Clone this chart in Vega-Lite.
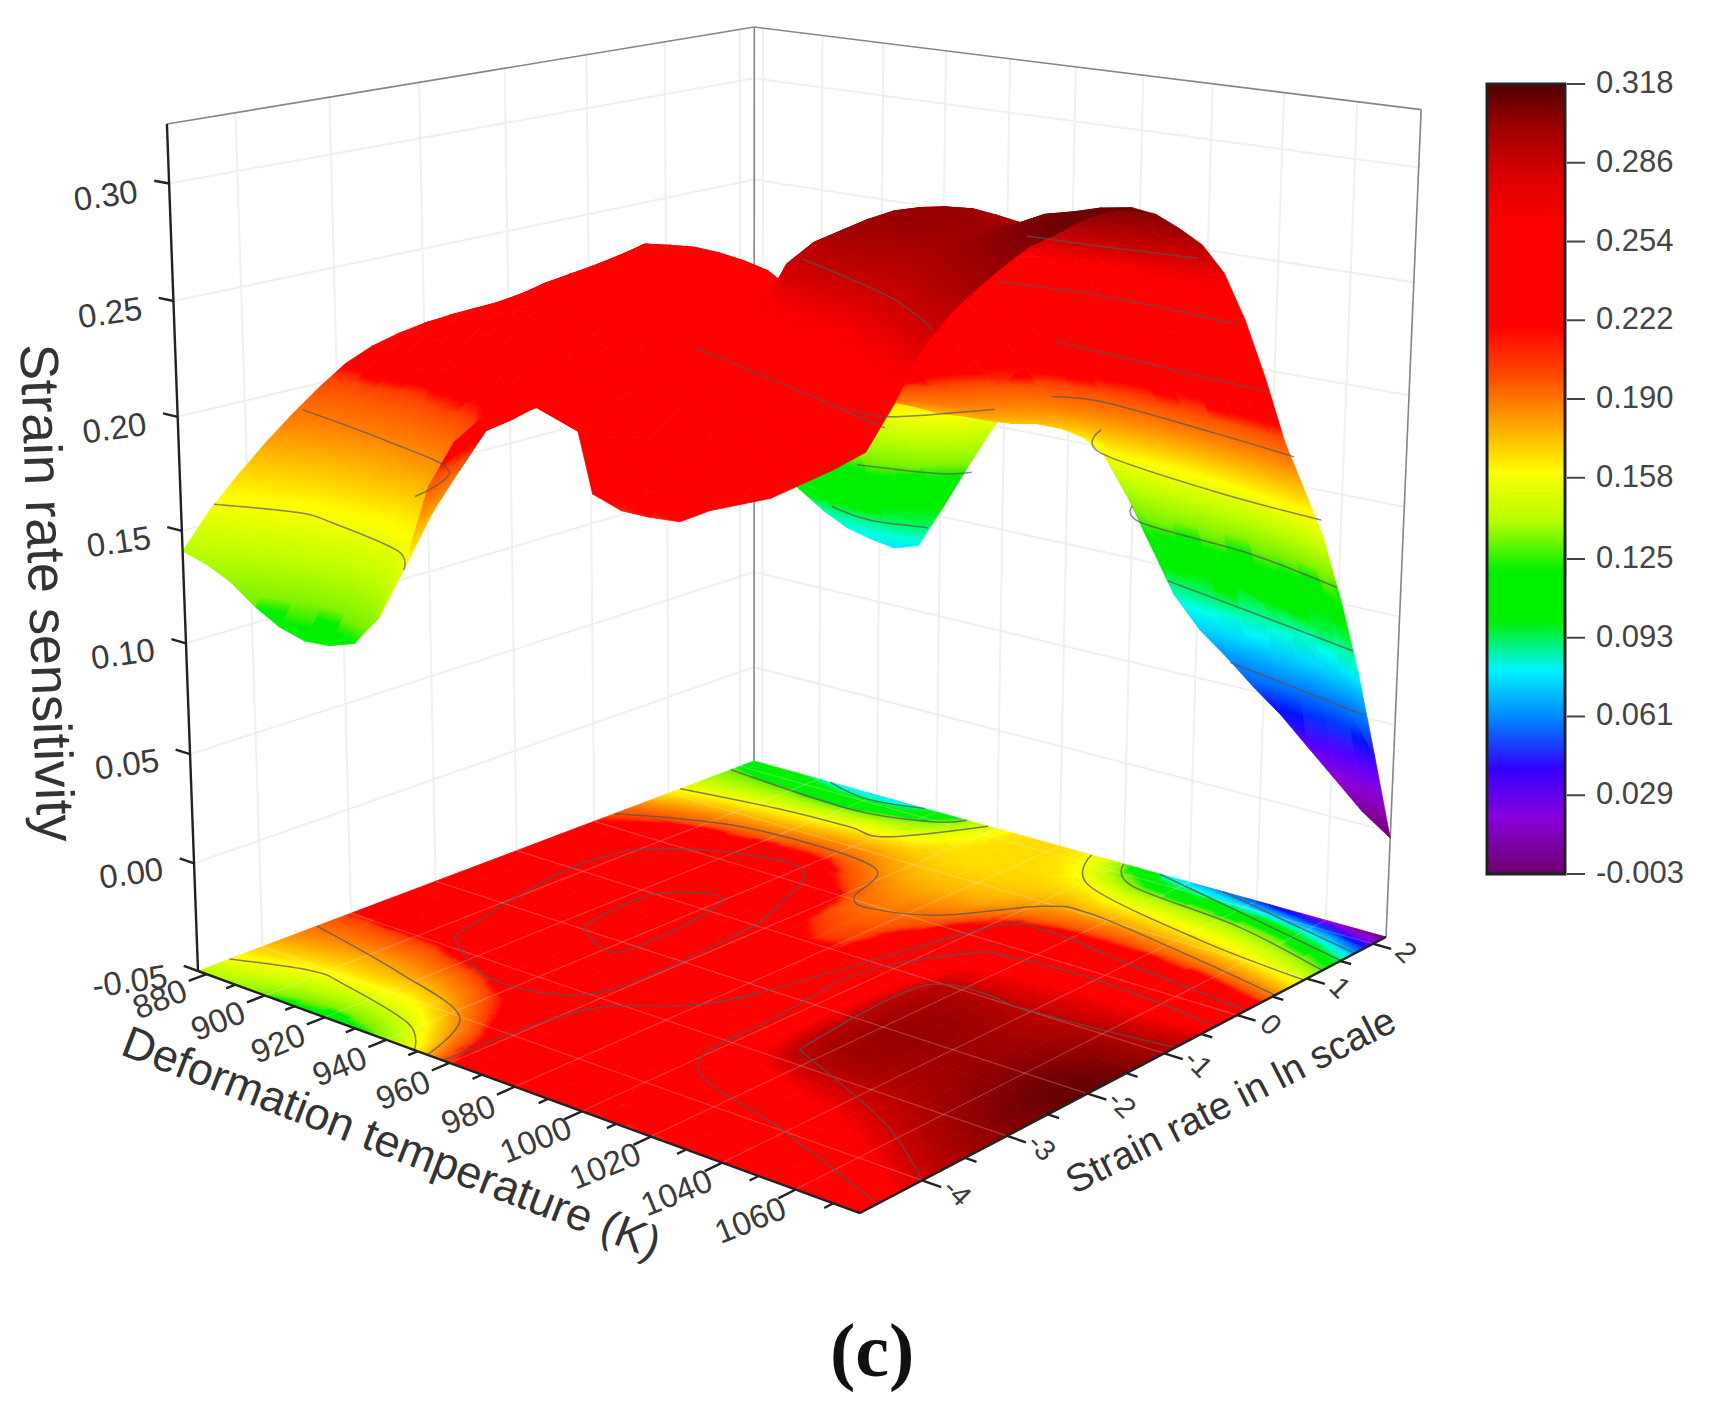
{"$schema":"https://vega.github.io/schema/vega-lite/v6.json","width":1714,"height":1416,"padding":0,"autosize":"none","background":"white",
"title":{"text":"(c)","anchor":"start","orient":"top","frame":"group","offset":0,"dx":830,"dy":1452,"baseline":"alphabetic","font":"Liberation Serif","fontSize":76,"fontWeight":"bold","color":"#111"},
"config":{"view":{"stroke":null}},
"datasets":{
"grid":[
{"T":877,"r":-4.7,"m":0.141},{"T":877,"r":-4.4,"m":0.156},{"T":877,"r":-4.1,"m":0.168},{"T":877,"r":-3.8,"m":0.179},{"T":877,"r":-3.5,"m":0.189},{"T":877,"r":-3.2,"m":0.198},{"T":877,"r":-2.9,"m":0.206},{"T":877,"r":-2.6,"m":0.211},{"T":877,"r":-2.3,"m":0.214},{"T":877,"r":-2,"m":0.216},{"T":877,"r":-1.7,"m":0.217},{"T":877,"r":-1.4,"m":0.217},{"T":877,"r":-1.1,"m":0.216},{"T":877,"r":-0.8,"m":0.214},{"T":877,"r":-0.5,"m":0.212},{"T":877,"r":-0.2,"m":0.208},{"T":877,"r":0.1,"m":0.203},{"T":877,"r":0.4,"m":0.196},{"T":877,"r":0.7,"m":0.18},{"T":877,"r":1,"m":0.165},{"T":877,"r":1.3,"m":0.152},{"T":877,"r":1.6,"m":0.137},{"T":877,"r":1.9,"m":0.125},{"T":877,"r":2.2,"m":0.115},
{"T":885,"r":-4.7,"m":0.138},{"T":885,"r":-4.4,"m":0.152},{"T":885,"r":-4.1,"m":0.165},{"T":885,"r":-3.8,"m":0.177},{"T":885,"r":-3.5,"m":0.187},{"T":885,"r":-3.2,"m":0.197},{"T":885,"r":-2.9,"m":0.207},{"T":885,"r":-2.6,"m":0.214},{"T":885,"r":-2.3,"m":0.219},{"T":885,"r":-2,"m":0.221},{"T":885,"r":-1.7,"m":0.222},{"T":885,"r":-1.4,"m":0.222},{"T":885,"r":-1.1,"m":0.221},{"T":885,"r":-0.8,"m":0.22},{"T":885,"r":-0.5,"m":0.217},{"T":885,"r":-0.2,"m":0.213},{"T":885,"r":0.1,"m":0.208},{"T":885,"r":0.4,"m":0.2},{"T":885,"r":0.7,"m":0.186},{"T":885,"r":1,"m":0.17},{"T":885,"r":1.3,"m":0.155},{"T":885,"r":1.6,"m":0.138},{"T":885,"r":1.9,"m":0.122},{"T":885,"r":2.2,"m":0.105},
{"T":893,"r":-4.7,"m":0.133},{"T":893,"r":-4.4,"m":0.148},{"T":893,"r":-4.1,"m":0.161},{"T":893,"r":-3.8,"m":0.174},{"T":893,"r":-3.5,"m":0.185},{"T":893,"r":-3.2,"m":0.197},{"T":893,"r":-2.9,"m":0.209},{"T":893,"r":-2.6,"m":0.218},{"T":893,"r":-2.3,"m":0.223},{"T":893,"r":-2,"m":0.226},{"T":893,"r":-1.7,"m":0.227},{"T":893,"r":-1.4,"m":0.228},{"T":893,"r":-1.1,"m":0.227},{"T":893,"r":-0.8,"m":0.226},{"T":893,"r":-0.5,"m":0.223},{"T":893,"r":-0.2,"m":0.219},{"T":893,"r":0.1,"m":0.213},{"T":893,"r":0.4,"m":0.204},{"T":893,"r":0.7,"m":0.19},{"T":893,"r":1,"m":0.174},{"T":893,"r":1.3,"m":0.158},{"T":893,"r":1.6,"m":0.139},{"T":893,"r":1.9,"m":0.118},{"T":893,"r":2.2,"m":0.098},
{"T":901,"r":-4.7,"m":0.125},{"T":901,"r":-4.4,"m":0.142},{"T":901,"r":-4.1,"m":0.158},{"T":901,"r":-3.8,"m":0.172},{"T":901,"r":-3.5,"m":0.184},{"T":901,"r":-3.2,"m":0.197},{"T":901,"r":-2.9,"m":0.21},{"T":901,"r":-2.6,"m":0.22},{"T":901,"r":-2.3,"m":0.227},{"T":901,"r":-2,"m":0.231},{"T":901,"r":-1.7,"m":0.233},{"T":901,"r":-1.4,"m":0.234},{"T":901,"r":-1.1,"m":0.233},{"T":901,"r":-0.8,"m":0.231},{"T":901,"r":-0.5,"m":0.228},{"T":901,"r":-0.2,"m":0.224},{"T":901,"r":0.1,"m":0.218},{"T":901,"r":0.4,"m":0.208},{"T":901,"r":0.7,"m":0.193},{"T":901,"r":1,"m":0.176},{"T":901,"r":1.3,"m":0.16},{"T":901,"r":1.6,"m":0.14},{"T":901,"r":1.9,"m":0.116},{"T":901,"r":2.2,"m":0.09},
{"T":909,"r":-4.7,"m":0.119},{"T":909,"r":-4.4,"m":0.138},{"T":909,"r":-4.1,"m":0.157},{"T":909,"r":-3.8,"m":0.172},{"T":909,"r":-3.5,"m":0.183},{"T":909,"r":-3.2,"m":0.197},{"T":909,"r":-2.9,"m":0.212},{"T":909,"r":-2.6,"m":0.223},{"T":909,"r":-2.3,"m":0.231},{"T":909,"r":-2,"m":0.236},{"T":909,"r":-1.7,"m":0.24},{"T":909,"r":-1.4,"m":0.241},{"T":909,"r":-1.1,"m":0.24},{"T":909,"r":-0.8,"m":0.238},{"T":909,"r":-0.5,"m":0.234},{"T":909,"r":-0.2,"m":0.229},{"T":909,"r":0.1,"m":0.222},{"T":909,"r":0.4,"m":0.212},{"T":909,"r":0.7,"m":0.194},{"T":909,"r":1,"m":0.178},{"T":909,"r":1.3,"m":0.162},{"T":909,"r":1.6,"m":0.14},{"T":909,"r":1.9,"m":0.11},{"T":909,"r":2.2,"m":0.084},
{"T":917,"r":-4.7,"m":0.116},{"T":917,"r":-4.4,"m":0.136},{"T":917,"r":-4.1,"m":0.156},{"T":917,"r":-3.8,"m":0.172},{"T":917,"r":-3.5,"m":0.186},{"T":917,"r":-3.2,"m":0.202},{"T":917,"r":-2.9,"m":0.217},{"T":917,"r":-2.6,"m":0.228},{"T":917,"r":-2.3,"m":0.236},{"T":917,"r":-2,"m":0.243},{"T":917,"r":-1.7,"m":0.246},{"T":917,"r":-1.4,"m":0.247},{"T":917,"r":-1.1,"m":0.246},{"T":917,"r":-0.8,"m":0.244},{"T":917,"r":-0.5,"m":0.24},{"T":917,"r":-0.2,"m":0.234},{"T":917,"r":0.1,"m":0.226},{"T":917,"r":0.4,"m":0.214},{"T":917,"r":0.7,"m":0.196},{"T":917,"r":1,"m":0.18},{"T":917,"r":1.3,"m":0.163},{"T":917,"r":1.6,"m":0.141},{"T":917,"r":1.9,"m":0.108},{"T":917,"r":2.2,"m":0.081},
{"T":925,"r":-4.7,"m":0.117},{"T":925,"r":-4.4,"m":0.137},{"T":925,"r":-4.1,"m":0.156},{"T":925,"r":-3.8,"m":0.172},{"T":925,"r":-3.5,"m":0.188},{"T":925,"r":-3.2,"m":0.205},{"T":925,"r":-2.9,"m":0.221},{"T":925,"r":-2.6,"m":0.232},{"T":925,"r":-2.3,"m":0.241},{"T":925,"r":-2,"m":0.248},{"T":925,"r":-1.7,"m":0.252},{"T":925,"r":-1.4,"m":0.254},{"T":925,"r":-1.1,"m":0.253},{"T":925,"r":-0.8,"m":0.25},{"T":925,"r":-0.5,"m":0.245},{"T":925,"r":-0.2,"m":0.238},{"T":925,"r":0.1,"m":0.23},{"T":925,"r":0.4,"m":0.216},{"T":925,"r":0.7,"m":0.198},{"T":925,"r":1,"m":0.182},{"T":925,"r":1.3,"m":0.165},{"T":925,"r":1.6,"m":0.143},{"T":925,"r":1.9,"m":0.112},{"T":925,"r":2.2,"m":0.079},
{"T":933,"r":-4.7,"m":0.121},{"T":933,"r":-4.4,"m":0.143},{"T":933,"r":-4.1,"m":0.16},{"T":933,"r":-3.8,"m":0.178},{"T":933,"r":-3.5,"m":0.195},{"T":933,"r":-3.2,"m":0.212},{"T":933,"r":-2.9,"m":0.226},{"T":933,"r":-2.6,"m":0.238},{"T":933,"r":-2.3,"m":0.248},{"T":933,"r":-2,"m":0.254},{"T":933,"r":-1.7,"m":0.258},{"T":933,"r":-1.4,"m":0.261},{"T":933,"r":-1.1,"m":0.258},{"T":933,"r":-0.8,"m":0.254},{"T":933,"r":-0.5,"m":0.249},{"T":933,"r":-0.2,"m":0.242},{"T":933,"r":0.1,"m":0.232},{"T":933,"r":0.4,"m":0.218},{"T":933,"r":0.7,"m":0.2},{"T":933,"r":1,"m":0.184},{"T":933,"r":1.3,"m":0.168},{"T":933,"r":1.6,"m":0.148},{"T":933,"r":1.9,"m":0.12},{"T":933,"r":2.2,"m":0.083},
{"T":941,"r":-4.7,"m":0.135},{"T":941,"r":-4.4,"m":0.155},{"T":941,"r":-4.1,"m":0.175},{"T":941,"r":-3.8,"m":0.192},{"T":941,"r":-3.5,"m":0.205},{"T":941,"r":-3.2,"m":0.219},{"T":941,"r":-2.9,"m":0.232},{"T":941,"r":-2.6,"m":0.244},{"T":941,"r":-2.3,"m":0.252},{"T":941,"r":-2,"m":0.256},{"T":941,"r":-1.7,"m":0.26},{"T":941,"r":-1.4,"m":0.262},{"T":941,"r":-1.1,"m":0.259},{"T":941,"r":-0.8,"m":0.254},{"T":941,"r":-0.5,"m":0.248},{"T":941,"r":-0.2,"m":0.241},{"T":941,"r":0.1,"m":0.23},{"T":941,"r":0.4,"m":0.215},{"T":941,"r":0.7,"m":0.198},{"T":941,"r":1,"m":0.183},{"T":941,"r":1.3,"m":0.168},{"T":941,"r":1.6,"m":0.15},{"T":941,"r":1.9,"m":0.128},{"T":941,"r":2.2,"m":0.105},
{"T":949,"r":-4.7,"m":0.158},{"T":949,"r":-4.4,"m":0.178},{"T":949,"r":-4.1,"m":0.193},{"T":949,"r":-3.8,"m":0.207},{"T":949,"r":-3.5,"m":0.216},{"T":949,"r":-3.2,"m":0.223},{"T":949,"r":-2.9,"m":0.229},{"T":949,"r":-2.6,"m":0.236},{"T":949,"r":-2.3,"m":0.242},{"T":949,"r":-2,"m":0.245},{"T":949,"r":-1.7,"m":0.247},{"T":949,"r":-1.4,"m":0.246},{"T":949,"r":-1.1,"m":0.243},{"T":949,"r":-0.8,"m":0.239},{"T":949,"r":-0.5,"m":0.232},{"T":949,"r":-0.2,"m":0.225},{"T":949,"r":0.1,"m":0.216},{"T":949,"r":0.4,"m":0.204},{"T":949,"r":0.7,"m":0.192},{"T":949,"r":1,"m":0.181},{"T":949,"r":1.3,"m":0.17},{"T":949,"r":1.6,"m":0.157},{"T":949,"r":1.9,"m":0.142},{"T":949,"r":2.2,"m":0.128},
{"T":957,"r":-4.7,"m":0.195},{"T":957,"r":-4.4,"m":0.205},{"T":957,"r":-4.1,"m":0.212},{"T":957,"r":-3.8,"m":0.214},{"T":957,"r":-3.5,"m":0.217},{"T":957,"r":-3.2,"m":0.22},{"T":957,"r":-2.9,"m":0.222},{"T":957,"r":-2.6,"m":0.226},{"T":957,"r":-2.3,"m":0.226},{"T":957,"r":-2,"m":0.226},{"T":957,"r":-1.7,"m":0.225},{"T":957,"r":-1.4,"m":0.224},{"T":957,"r":-1.1,"m":0.225},{"T":957,"r":-0.8,"m":0.224},{"T":957,"r":-0.5,"m":0.222},{"T":957,"r":-0.2,"m":0.215},{"T":957,"r":0.1,"m":0.205},{"T":957,"r":0.4,"m":0.193},{"T":957,"r":0.7,"m":0.184},{"T":957,"r":1,"m":0.176},{"T":957,"r":1.3,"m":0.17},{"T":957,"r":1.6,"m":0.165},{"T":957,"r":1.9,"m":0.158},{"T":957,"r":2.2,"m":0.15},
{"T":965,"r":-4.7,"m":0.216},{"T":965,"r":-4.4,"m":0.222},{"T":965,"r":-4.1,"m":0.224},{"T":965,"r":-3.8,"m":0.224},{"T":965,"r":-3.5,"m":0.224},{"T":965,"r":-3.2,"m":0.222},{"T":965,"r":-2.9,"m":0.219},{"T":965,"r":-2.6,"m":0.216},{"T":965,"r":-2.3,"m":0.214},{"T":965,"r":-2,"m":0.213},{"T":965,"r":-1.7,"m":0.212},{"T":965,"r":-1.4,"m":0.211},{"T":965,"r":-1.1,"m":0.209},{"T":965,"r":-0.8,"m":0.206},{"T":965,"r":-0.5,"m":0.202},{"T":965,"r":-0.2,"m":0.196},{"T":965,"r":0.1,"m":0.191},{"T":965,"r":0.4,"m":0.185},{"T":965,"r":0.7,"m":0.178},{"T":965,"r":1,"m":0.172},{"T":965,"r":1.3,"m":0.168},{"T":965,"r":1.6,"m":0.167},{"T":965,"r":1.9,"m":0.166},{"T":965,"r":2.2,"m":0.165},
{"T":973,"r":-4.7,"m":0.228},{"T":973,"r":-4.4,"m":0.226},{"T":973,"r":-4.1,"m":0.228},{"T":973,"r":-3.8,"m":0.229},{"T":973,"r":-3.5,"m":0.229},{"T":973,"r":-3.2,"m":0.229},{"T":973,"r":-2.9,"m":0.226},{"T":973,"r":-2.6,"m":0.222},{"T":973,"r":-2.3,"m":0.217},{"T":973,"r":-2,"m":0.213},{"T":973,"r":-1.7,"m":0.21},{"T":973,"r":-1.4,"m":0.208},{"T":973,"r":-1.1,"m":0.205},{"T":973,"r":-0.8,"m":0.202},{"T":973,"r":-0.5,"m":0.198},{"T":973,"r":-0.2,"m":0.193},{"T":973,"r":0.1,"m":0.187},{"T":973,"r":0.4,"m":0.182},{"T":973,"r":0.7,"m":0.176},{"T":973,"r":1,"m":0.172},{"T":973,"r":1.3,"m":0.168},{"T":973,"r":1.6,"m":0.168},{"T":973,"r":1.9,"m":0.168},{"T":973,"r":2.2,"m":0.168},
{"T":981,"r":-4.7,"m":0.24},{"T":981,"r":-4.4,"m":0.232},{"T":981,"r":-4.1,"m":0.232},{"T":981,"r":-3.8,"m":0.235},{"T":981,"r":-3.5,"m":0.238},{"T":981,"r":-3.2,"m":0.24},{"T":981,"r":-2.9,"m":0.238},{"T":981,"r":-2.6,"m":0.232},{"T":981,"r":-2.3,"m":0.222},{"T":981,"r":-2,"m":0.216},{"T":981,"r":-1.7,"m":0.212},{"T":981,"r":-1.4,"m":0.208},{"T":981,"r":-1.1,"m":0.205},{"T":981,"r":-0.8,"m":0.203},{"T":981,"r":-0.5,"m":0.2},{"T":981,"r":-0.2,"m":0.196},{"T":981,"r":0.1,"m":0.19},{"T":981,"r":0.4,"m":0.184},{"T":981,"r":0.7,"m":0.177},{"T":981,"r":1,"m":0.172},{"T":981,"r":1.3,"m":0.169},{"T":981,"r":1.6,"m":0.168},{"T":981,"r":1.9,"m":0.168},{"T":981,"r":2.2,"m":0.168},
{"T":989,"r":-4.7,"m":0.254},{"T":989,"r":-4.4,"m":0.228},{"T":989,"r":-4.1,"m":0.226},{"T":989,"r":-3.8,"m":0.232},{"T":989,"r":-3.5,"m":0.24},{"T":989,"r":-3.2,"m":0.245},{"T":989,"r":-2.9,"m":0.247},{"T":989,"r":-2.6,"m":0.243},{"T":989,"r":-2.3,"m":0.236},{"T":989,"r":-2,"m":0.23},{"T":989,"r":-1.7,"m":0.225},{"T":989,"r":-1.4,"m":0.222},{"T":989,"r":-1.1,"m":0.218},{"T":989,"r":-0.8,"m":0.214},{"T":989,"r":-0.5,"m":0.21},{"T":989,"r":-0.2,"m":0.204},{"T":989,"r":0.1,"m":0.196},{"T":989,"r":0.4,"m":0.186},{"T":989,"r":0.7,"m":0.178},{"T":989,"r":1,"m":0.173},{"T":989,"r":1.3,"m":0.17},{"T":989,"r":1.6,"m":0.167},{"T":989,"r":1.9,"m":0.165},{"T":989,"r":2.2,"m":0.162},
{"T":997,"r":-4.7,"m":0.256},{"T":997,"r":-4.4,"m":0.224},{"T":997,"r":-4.1,"m":0.222},{"T":997,"r":-3.8,"m":0.23},{"T":997,"r":-3.5,"m":0.24},{"T":997,"r":-3.2,"m":0.247},{"T":997,"r":-2.9,"m":0.25},{"T":997,"r":-2.6,"m":0.252},{"T":997,"r":-2.3,"m":0.253},{"T":997,"r":-2,"m":0.253},{"T":997,"r":-1.7,"m":0.254},{"T":997,"r":-1.4,"m":0.254},{"T":997,"r":-1.1,"m":0.25},{"T":997,"r":-0.8,"m":0.24},{"T":997,"r":-0.5,"m":0.232},{"T":997,"r":-0.2,"m":0.224},{"T":997,"r":0.1,"m":0.212},{"T":997,"r":0.4,"m":0.198},{"T":997,"r":0.7,"m":0.185},{"T":997,"r":1,"m":0.176},{"T":997,"r":1.3,"m":0.17},{"T":997,"r":1.6,"m":0.163},{"T":997,"r":1.9,"m":0.152},{"T":997,"r":2.2,"m":0.145},
{"T":1005,"r":-4.7,"m":0.208},{"T":1005,"r":-4.4,"m":0.216},{"T":1005,"r":-4.1,"m":0.224},{"T":1005,"r":-3.8,"m":0.232},{"T":1005,"r":-3.5,"m":0.25},{"T":1005,"r":-3.2,"m":0.257},{"T":1005,"r":-2.9,"m":0.262},{"T":1005,"r":-2.6,"m":0.266},{"T":1005,"r":-2.3,"m":0.268},{"T":1005,"r":-2,"m":0.268},{"T":1005,"r":-1.7,"m":0.268},{"T":1005,"r":-1.4,"m":0.266},{"T":1005,"r":-1.1,"m":0.262},{"T":1005,"r":-0.8,"m":0.258},{"T":1005,"r":-0.5,"m":0.25},{"T":1005,"r":-0.2,"m":0.238},{"T":1005,"r":0.1,"m":0.225},{"T":1005,"r":0.4,"m":0.21},{"T":1005,"r":0.7,"m":0.192},{"T":1005,"r":1,"m":0.18},{"T":1005,"r":1.3,"m":0.17},{"T":1005,"r":1.6,"m":0.158},{"T":1005,"r":1.9,"m":0.133},{"T":1005,"r":2.2,"m":0.11},
{"T":1013,"r":-4.7,"m":0.204},{"T":1013,"r":-4.4,"m":0.208},{"T":1013,"r":-4.1,"m":0.222},{"T":1013,"r":-3.8,"m":0.238},{"T":1013,"r":-3.5,"m":0.252},{"T":1013,"r":-3.2,"m":0.268},{"T":1013,"r":-2.9,"m":0.285},{"T":1013,"r":-2.6,"m":0.291},{"T":1013,"r":-2.3,"m":0.293},{"T":1013,"r":-2,"m":0.293},{"T":1013,"r":-1.7,"m":0.293},{"T":1013,"r":-1.4,"m":0.292},{"T":1013,"r":-1.1,"m":0.288},{"T":1013,"r":-0.8,"m":0.278},{"T":1013,"r":-0.5,"m":0.266},{"T":1013,"r":-0.2,"m":0.25},{"T":1013,"r":0.1,"m":0.232},{"T":1013,"r":0.4,"m":0.217},{"T":1013,"r":0.7,"m":0.196},{"T":1013,"r":1,"m":0.18},{"T":1013,"r":1.3,"m":0.165},{"T":1013,"r":1.6,"m":0.148},{"T":1013,"r":1.9,"m":0.118},{"T":1013,"r":2.2,"m":0.087},
{"T":1021,"r":-4.7,"m":0.204},{"T":1021,"r":-4.4,"m":0.212},{"T":1021,"r":-4.1,"m":0.228},{"T":1021,"r":-3.8,"m":0.245},{"T":1021,"r":-3.5,"m":0.26},{"T":1021,"r":-3.2,"m":0.275},{"T":1021,"r":-2.9,"m":0.292},{"T":1021,"r":-2.6,"m":0.298},{"T":1021,"r":-2.3,"m":0.3},{"T":1021,"r":-2,"m":0.301},{"T":1021,"r":-1.7,"m":0.3},{"T":1021,"r":-1.4,"m":0.298},{"T":1021,"r":-1.1,"m":0.294},{"T":1021,"r":-0.8,"m":0.281},{"T":1021,"r":-0.5,"m":0.27},{"T":1021,"r":-0.2,"m":0.256},{"T":1021,"r":0.1,"m":0.238},{"T":1021,"r":0.4,"m":0.22},{"T":1021,"r":0.7,"m":0.198},{"T":1021,"r":1,"m":0.18},{"T":1021,"r":1.3,"m":0.165},{"T":1021,"r":1.6,"m":0.145},{"T":1021,"r":1.9,"m":0.112},{"T":1021,"r":2.2,"m":0.073},
{"T":1029,"r":-4.7,"m":0.205},{"T":1029,"r":-4.4,"m":0.218},{"T":1029,"r":-4.1,"m":0.235},{"T":1029,"r":-3.8,"m":0.252},{"T":1029,"r":-3.5,"m":0.265},{"T":1029,"r":-3.2,"m":0.28},{"T":1029,"r":-2.9,"m":0.293},{"T":1029,"r":-2.6,"m":0.299},{"T":1029,"r":-2.3,"m":0.302},{"T":1029,"r":-2,"m":0.303},{"T":1029,"r":-1.7,"m":0.302},{"T":1029,"r":-1.4,"m":0.299},{"T":1029,"r":-1.1,"m":0.294},{"T":1029,"r":-0.8,"m":0.282},{"T":1029,"r":-0.5,"m":0.272},{"T":1029,"r":-0.2,"m":0.258},{"T":1029,"r":0.1,"m":0.241},{"T":1029,"r":0.4,"m":0.222},{"T":1029,"r":0.7,"m":0.199},{"T":1029,"r":1,"m":0.179},{"T":1029,"r":1.3,"m":0.163},{"T":1029,"r":1.6,"m":0.142},{"T":1029,"r":1.9,"m":0.108},{"T":1029,"r":2.2,"m":0.063},
{"T":1037,"r":-4.7,"m":0.212},{"T":1037,"r":-4.4,"m":0.224},{"T":1037,"r":-4.1,"m":0.242},{"T":1037,"r":-3.8,"m":0.256},{"T":1037,"r":-3.5,"m":0.27},{"T":1037,"r":-3.2,"m":0.282},{"T":1037,"r":-2.9,"m":0.292},{"T":1037,"r":-2.6,"m":0.298},{"T":1037,"r":-2.3,"m":0.3},{"T":1037,"r":-2,"m":0.301},{"T":1037,"r":-1.7,"m":0.3},{"T":1037,"r":-1.4,"m":0.297},{"T":1037,"r":-1.1,"m":0.292},{"T":1037,"r":-0.8,"m":0.283},{"T":1037,"r":-0.5,"m":0.273},{"T":1037,"r":-0.2,"m":0.258},{"T":1037,"r":0.1,"m":0.242},{"T":1037,"r":0.4,"m":0.222},{"T":1037,"r":0.7,"m":0.197},{"T":1037,"r":1,"m":0.177},{"T":1037,"r":1.3,"m":0.16},{"T":1037,"r":1.6,"m":0.139},{"T":1037,"r":1.9,"m":0.103},{"T":1037,"r":2.2,"m":0.052},
{"T":1045,"r":-4.7,"m":0.217},{"T":1045,"r":-4.4,"m":0.23},{"T":1045,"r":-4.1,"m":0.246},{"T":1045,"r":-3.8,"m":0.26},{"T":1045,"r":-3.5,"m":0.274},{"T":1045,"r":-3.2,"m":0.285},{"T":1045,"r":-2.9,"m":0.293},{"T":1045,"r":-2.6,"m":0.297},{"T":1045,"r":-2.3,"m":0.3},{"T":1045,"r":-2,"m":0.3},{"T":1045,"r":-1.7,"m":0.299},{"T":1045,"r":-1.4,"m":0.296},{"T":1045,"r":-1.1,"m":0.292},{"T":1045,"r":-0.8,"m":0.284},{"T":1045,"r":-0.5,"m":0.274},{"T":1045,"r":-0.2,"m":0.259},{"T":1045,"r":0.1,"m":0.242},{"T":1045,"r":0.4,"m":0.22},{"T":1045,"r":0.7,"m":0.194},{"T":1045,"r":1,"m":0.174},{"T":1045,"r":1.3,"m":0.157},{"T":1045,"r":1.6,"m":0.135},{"T":1045,"r":1.9,"m":0.098},{"T":1045,"r":2.2,"m":0.042},
{"T":1053,"r":-4.7,"m":0.222},{"T":1053,"r":-4.4,"m":0.238},{"T":1053,"r":-4.1,"m":0.254},{"T":1053,"r":-3.8,"m":0.268},{"T":1053,"r":-3.5,"m":0.28},{"T":1053,"r":-3.2,"m":0.289},{"T":1053,"r":-2.9,"m":0.296},{"T":1053,"r":-2.6,"m":0.3},{"T":1053,"r":-2.3,"m":0.303},{"T":1053,"r":-2,"m":0.303},{"T":1053,"r":-1.7,"m":0.302},{"T":1053,"r":-1.4,"m":0.299},{"T":1053,"r":-1.1,"m":0.294},{"T":1053,"r":-0.8,"m":0.285},{"T":1053,"r":-0.5,"m":0.274},{"T":1053,"r":-0.2,"m":0.258},{"T":1053,"r":0.1,"m":0.24},{"T":1053,"r":0.4,"m":0.216},{"T":1053,"r":0.7,"m":0.191},{"T":1053,"r":1,"m":0.17},{"T":1053,"r":1.3,"m":0.152},{"T":1053,"r":1.6,"m":0.128},{"T":1053,"r":1.9,"m":0.09},{"T":1053,"r":2.2,"m":0.03},
{"T":1061,"r":-4.7,"m":0.23},{"T":1061,"r":-4.4,"m":0.246},{"T":1061,"r":-4.1,"m":0.262},{"T":1061,"r":-3.8,"m":0.276},{"T":1061,"r":-3.5,"m":0.287},{"T":1061,"r":-3.2,"m":0.295},{"T":1061,"r":-2.9,"m":0.301},{"T":1061,"r":-2.6,"m":0.306},{"T":1061,"r":-2.3,"m":0.308},{"T":1061,"r":-2,"m":0.309},{"T":1061,"r":-1.7,"m":0.307},{"T":1061,"r":-1.4,"m":0.303},{"T":1061,"r":-1.1,"m":0.297},{"T":1061,"r":-0.8,"m":0.287},{"T":1061,"r":-0.5,"m":0.274},{"T":1061,"r":-0.2,"m":0.256},{"T":1061,"r":0.1,"m":0.236},{"T":1061,"r":0.4,"m":0.211},{"T":1061,"r":0.7,"m":0.187},{"T":1061,"r":1,"m":0.165},{"T":1061,"r":1.3,"m":0.145},{"T":1061,"r":1.6,"m":0.118},{"T":1061,"r":1.9,"m":0.078},{"T":1061,"r":2.2,"m":0.018},
{"T":1069,"r":-4.7,"m":0.238},{"T":1069,"r":-4.4,"m":0.254},{"T":1069,"r":-4.1,"m":0.271},{"T":1069,"r":-3.8,"m":0.284},{"T":1069,"r":-3.5,"m":0.293},{"T":1069,"r":-3.2,"m":0.3},{"T":1069,"r":-2.9,"m":0.306},{"T":1069,"r":-2.6,"m":0.31},{"T":1069,"r":-2.3,"m":0.312},{"T":1069,"r":-2,"m":0.312},{"T":1069,"r":-1.7,"m":0.311},{"T":1069,"r":-1.4,"m":0.307},{"T":1069,"r":-1.1,"m":0.299},{"T":1069,"r":-0.8,"m":0.288},{"T":1069,"r":-0.5,"m":0.274},{"T":1069,"r":-0.2,"m":0.254},{"T":1069,"r":0.1,"m":0.231},{"T":1069,"r":0.4,"m":0.205},{"T":1069,"r":0.7,"m":0.181},{"T":1069,"r":1,"m":0.158},{"T":1069,"r":1.3,"m":0.136},{"T":1069,"r":1.6,"m":0.104},{"T":1069,"r":1.9,"m":0.06},{"T":1069,"r":2.2,"m":0.006},
{"T":1077,"r":-4.7,"m":0.247},{"T":1077,"r":-4.4,"m":0.262},{"T":1077,"r":-4.1,"m":0.28},{"T":1077,"r":-3.8,"m":0.29},{"T":1077,"r":-3.5,"m":0.297},{"T":1077,"r":-3.2,"m":0.303},{"T":1077,"r":-2.9,"m":0.308},{"T":1077,"r":-2.6,"m":0.31},{"T":1077,"r":-2.3,"m":0.313},{"T":1077,"r":-2,"m":0.314},{"T":1077,"r":-1.7,"m":0.313},{"T":1077,"r":-1.4,"m":0.308},{"T":1077,"r":-1.1,"m":0.3},{"T":1077,"r":-0.8,"m":0.291},{"T":1077,"r":-0.5,"m":0.277},{"T":1077,"r":-0.2,"m":0.255},{"T":1077,"r":0.1,"m":0.228},{"T":1077,"r":0.4,"m":0.198},{"T":1077,"r":0.7,"m":0.174},{"T":1077,"r":1,"m":0.15},{"T":1077,"r":1.3,"m":0.118},{"T":1077,"r":1.6,"m":0.082},{"T":1077,"r":1.9,"m":0.04},{"T":1077,"r":2.2,"m":-0.003}
],
"seg":[
{"k":"w","T":877,"r":-4.7,"z":0,"T2":877,"r2":2.2,"z2":0},{"k":"w","T":877,"r":-4.7,"z":0.05,"T2":877,"r2":2.2,"z2":0.05},{"k":"w","T":877,"r":-4.7,"z":0.1,"T2":877,"r2":2.2,"z2":0.1},{"k":"w","T":877,"r":-4.7,"z":0.15,"T2":877,"r2":2.2,"z2":0.15},{"k":"w","T":877,"r":-4.7,"z":0.2,"T2":877,"r2":2.2,"z2":0.2},{"k":"w","T":877,"r":-4.7,"z":0.25,"T2":877,"r2":2.2,"z2":0.25},{"k":"w","T":877,"r":-4.7,"z":0.3,"T2":877,"r2":2.2,"z2":0.3},
{"k":"w","T":877,"r":2.2,"z":0,"T2":1077,"r2":2.2,"z2":0},{"k":"w","T":877,"r":2.2,"z":0.05,"T2":1077,"r2":2.2,"z2":0.05},{"k":"w","T":877,"r":2.2,"z":0.1,"T2":1077,"r2":2.2,"z2":0.1},{"k":"w","T":877,"r":2.2,"z":0.15,"T2":1077,"r2":2.2,"z2":0.15},{"k":"w","T":877,"r":2.2,"z":0.2,"T2":1077,"r2":2.2,"z2":0.2},{"k":"w","T":877,"r":2.2,"z":0.25,"T2":1077,"r2":2.2,"z2":0.25},{"k":"w","T":877,"r":2.2,"z":0.3,"T2":1077,"r2":2.2,"z2":0.3},
{"k":"w","T":877,"r":-4,"z":-0.05,"T2":877,"r2":-4,"z2":0.325},{"k":"w","T":877,"r":-3,"z":-0.05,"T2":877,"r2":-3,"z2":0.325},{"k":"w","T":877,"r":-2,"z":-0.05,"T2":877,"r2":-2,"z2":0.325},{"k":"w","T":877,"r":-1,"z":-0.05,"T2":877,"r2":-1,"z2":0.325},{"k":"w","T":877,"r":0,"z":-0.05,"T2":877,"r2":0,"z2":0.325},{"k":"w","T":877,"r":1,"z":-0.05,"T2":877,"r2":1,"z2":0.325},{"k":"w","T":877,"r":2,"z":-0.05,"T2":877,"r2":2,"z2":0.325},
{"k":"w","T":880,"r":2.2,"z":-0.05,"T2":880,"r2":2.2,"z2":0.325},{"k":"w","T":900,"r":2.2,"z":-0.05,"T2":900,"r2":2.2,"z2":0.325},{"k":"w","T":920,"r":2.2,"z":-0.05,"T2":920,"r2":2.2,"z2":0.325},{"k":"w","T":940,"r":2.2,"z":-0.05,"T2":940,"r2":2.2,"z2":0.325},{"k":"w","T":960,"r":2.2,"z":-0.05,"T2":960,"r2":2.2,"z2":0.325},{"k":"w","T":980,"r":2.2,"z":-0.05,"T2":980,"r2":2.2,"z2":0.325},{"k":"w","T":1000,"r":2.2,"z":-0.05,"T2":1000,"r2":2.2,"z2":0.325},{"k":"w","T":1020,"r":2.2,"z":-0.05,"T2":1020,"r2":2.2,"z2":0.325},{"k":"w","T":1040,"r":2.2,"z":-0.05,"T2":1040,"r2":2.2,"z2":0.325},{"k":"w","T":1060,"r":2.2,"z":-0.05,"T2":1060,"r2":2.2,"z2":0.325},
{"k":"f","T":877,"r":2.2,"z":-0.05,"T2":877,"r2":2.2,"z2":0.325},{"k":"f","T":1077,"r":2.2,"z":-0.05,"T2":1077,"r2":2.2,"z2":0.325},{"k":"f","T":877,"r":-4.7,"z":0.325,"T2":877,"r2":2.2,"z2":0.325},{"k":"f","T":877,"r":2.2,"z":0.325,"T2":1077,"r2":2.2,"z2":0.325},
{"k":"g","T":900,"r":-4.7,"z":-0.05,"T2":900,"r2":2.2,"z2":-0.05},{"k":"g","T":920,"r":-4.7,"z":-0.05,"T2":920,"r2":2.2,"z2":-0.05},{"k":"g","T":940,"r":-4.7,"z":-0.05,"T2":940,"r2":2.2,"z2":-0.05},{"k":"g","T":960,"r":-4.7,"z":-0.05,"T2":960,"r2":2.2,"z2":-0.05},{"k":"g","T":980,"r":-4.7,"z":-0.05,"T2":980,"r2":2.2,"z2":-0.05},{"k":"g","T":1000,"r":-4.7,"z":-0.05,"T2":1000,"r2":2.2,"z2":-0.05},{"k":"g","T":1020,"r":-4.7,"z":-0.05,"T2":1020,"r2":2.2,"z2":-0.05},{"k":"g","T":1040,"r":-4.7,"z":-0.05,"T2":1040,"r2":2.2,"z2":-0.05},{"k":"g","T":1060,"r":-4.7,"z":-0.05,"T2":1060,"r2":2.2,"z2":-0.05},
{"k":"g","T":877,"r":-4,"z":-0.05,"T2":1077,"r2":-4,"z2":-0.05},{"k":"g","T":877,"r":-3,"z":-0.05,"T2":1077,"r2":-3,"z2":-0.05},{"k":"g","T":877,"r":-2,"z":-0.05,"T2":1077,"r2":-2,"z2":-0.05},{"k":"g","T":877,"r":-1,"z":-0.05,"T2":1077,"r2":-1,"z2":-0.05},{"k":"g","T":877,"r":0,"z":-0.05,"T2":1077,"r2":0,"z2":-0.05},{"k":"g","T":877,"r":1,"z":-0.05,"T2":1077,"r2":1,"z2":-0.05},{"k":"g","T":877,"r":2,"z":-0.05,"T2":1077,"r2":2,"z2":-0.05},
{"k":"a","T":877,"r":-4.7,"z":-0.05,"T2":877,"r2":-4.7,"z2":0.325},{"k":"a","T":877,"r":-4.7,"z":-0.05,"T2":1077,"r2":-4.7,"z2":-0.05},{"k":"a","T":1077,"r":-4.7,"z":-0.05,"T2":1077,"r2":2.2,"z2":-0.05},
{"k":"a","T":877,"r":-4.7,"z":-0.05,"T2":872,"r2":-4.7,"z2":-0.05},{"k":"a","T":877,"r":-4.7,"z":0,"T2":872,"r2":-4.7,"z2":0},{"k":"a","T":877,"r":-4.7,"z":0.05,"T2":872,"r2":-4.7,"z2":0.05},{"k":"a","T":877,"r":-4.7,"z":0.1,"T2":872,"r2":-4.7,"z2":0.1},{"k":"a","T":877,"r":-4.7,"z":0.15,"T2":872,"r2":-4.7,"z2":0.15},{"k":"a","T":877,"r":-4.7,"z":0.2,"T2":872,"r2":-4.7,"z2":0.2},{"k":"a","T":877,"r":-4.7,"z":0.25,"T2":872,"r2":-4.7,"z2":0.25},{"k":"a","T":877,"r":-4.7,"z":0.3,"T2":872,"r2":-4.7,"z2":0.3},
{"k":"a","T":880,"r":-4.7,"z":-0.05,"T2":880,"r2":-4.89,"z2":-0.05},{"k":"a","T":890,"r":-4.7,"z":-0.05,"T2":890,"r2":-4.8,"z2":-0.05},{"k":"a","T":900,"r":-4.7,"z":-0.05,"T2":900,"r2":-4.89,"z2":-0.05},{"k":"a","T":910,"r":-4.7,"z":-0.05,"T2":910,"r2":-4.8,"z2":-0.05},{"k":"a","T":920,"r":-4.7,"z":-0.05,"T2":920,"r2":-4.89,"z2":-0.05},{"k":"a","T":930,"r":-4.7,"z":-0.05,"T2":930,"r2":-4.8,"z2":-0.05},{"k":"a","T":940,"r":-4.7,"z":-0.05,"T2":940,"r2":-4.89,"z2":-0.05},{"k":"a","T":950,"r":-4.7,"z":-0.05,"T2":950,"r2":-4.8,"z2":-0.05},{"k":"a","T":960,"r":-4.7,"z":-0.05,"T2":960,"r2":-4.89,"z2":-0.05},{"k":"a","T":970,"r":-4.7,"z":-0.05,"T2":970,"r2":-4.8,"z2":-0.05},{"k":"a","T":980,"r":-4.7,"z":-0.05,"T2":980,"r2":-4.89,"z2":-0.05},{"k":"a","T":990,"r":-4.7,"z":-0.05,"T2":990,"r2":-4.8,"z2":-0.05},{"k":"a","T":1000,"r":-4.7,"z":-0.05,"T2":1000,"r2":-4.89,"z2":-0.05},{"k":"a","T":1010,"r":-4.7,"z":-0.05,"T2":1010,"r2":-4.8,"z2":-0.05},{"k":"a","T":1020,"r":-4.7,"z":-0.05,"T2":1020,"r2":-4.89,"z2":-0.05},{"k":"a","T":1030,"r":-4.7,"z":-0.05,"T2":1030,"r2":-4.8,"z2":-0.05},{"k":"a","T":1040,"r":-4.7,"z":-0.05,"T2":1040,"r2":-4.89,"z2":-0.05},{"k":"a","T":1050,"r":-4.7,"z":-0.05,"T2":1050,"r2":-4.8,"z2":-0.05},{"k":"a","T":1060,"r":-4.7,"z":-0.05,"T2":1060,"r2":-4.89,"z2":-0.05},{"k":"a","T":1070,"r":-4.7,"z":-0.05,"T2":1070,"r2":-4.8,"z2":-0.05},
{"k":"a","T":1077,"r":-4,"z":-0.05,"T2":1082,"r2":-4,"z2":-0.05},{"k":"a","T":1077,"r":-3.5,"z":-0.05,"T2":1080,"r2":-3.5,"z2":-0.05},{"k":"a","T":1077,"r":-3,"z":-0.05,"T2":1082,"r2":-3,"z2":-0.05},{"k":"a","T":1077,"r":-2.5,"z":-0.05,"T2":1080,"r2":-2.5,"z2":-0.05},{"k":"a","T":1077,"r":-2,"z":-0.05,"T2":1082,"r2":-2,"z2":-0.05},{"k":"a","T":1077,"r":-1.5,"z":-0.05,"T2":1080,"r2":-1.5,"z2":-0.05},{"k":"a","T":1077,"r":-1,"z":-0.05,"T2":1082,"r2":-1,"z2":-0.05},{"k":"a","T":1077,"r":-0.5,"z":-0.05,"T2":1080,"r2":-0.5,"z2":-0.05},{"k":"a","T":1077,"r":0,"z":-0.05,"T2":1082,"r2":0,"z2":-0.05},{"k":"a","T":1077,"r":0.5,"z":-0.05,"T2":1080,"r2":0.5,"z2":-0.05},{"k":"a","T":1077,"r":1,"z":-0.05,"T2":1082,"r2":1,"z2":-0.05},{"k":"a","T":1077,"r":1.5,"z":-0.05,"T2":1080,"r2":1.5,"z2":-0.05},{"k":"a","T":1077,"r":2,"z":-0.05,"T2":1082,"r2":2,"z2":-0.05}
],
"ctr":[
{"id":"A","i":0,"T":877,"r":-4.36,"m":0.158,"top":1},{"id":"A","i":1,"T":897,"r":-4.1,"m":0.158,"top":1},{"id":"A","i":2,"T":909,"r":-4.13,"m":0.158,"top":1},{"id":"A","i":3,"T":937,"r":-4.36,"m":0.158,"top":1},{"id":"A","i":4,"T":949,"r":-4.7,"m":0.158,"top":1},
{"id":"B","i":0,"T":877,"r":-3.39,"m":0.19,"top":1},{"id":"B","i":1,"T":914,"r":-3.67,"m":0.19,"top":1},{"id":"B","i":2,"T":943,"r":-4,"m":0.19,"top":1},{"id":"B","i":3,"T":953,"r":-4.7,"m":0.19,"top":1},
{"id":"C","i":0,"T":907,"r":-2.82,"m":0.222,"top":0},{"id":"C","i":1,"T":896,"r":-1,"m":0.222,"top":0},{"id":"C","i":2,"T":905,"r":-0.1,"m":0.222,"top":0},{"id":"C","i":3,"T":939,"r":0.31,"m":0.222,"top":0},{"id":"C","i":4,"T":953,"r":-0.56,"m":0.222,"top":0},{"id":"C","i":5,"T":958,"r":-1.39,"m":0.222,"top":0},{"id":"C","i":6,"T":957,"r":-2.95,"m":0.222,"top":0},{"id":"C","i":7,"T":933,"r":-3.28,"m":0.222,"top":0},{"id":"C","i":8,"T":907,"r":-2.82,"m":0.222,"top":0},
{"id":"D","i":0,"T":926,"r":-1.95,"m":0.254,"top":0},{"id":"D","i":1,"T":924,"r":-1.04,"m":0.254,"top":0},{"id":"D","i":2,"T":940,"r":-0.74,"m":0.254,"top":0},{"id":"D","i":3,"T":944,"r":-2.17,"m":0.254,"top":0},{"id":"D","i":4,"T":926,"r":-1.95,"m":0.254,"top":0},
{"id":"E","i":0,"T":877,"r":0.27,"m":0.19,"top":0},{"id":"E","i":1,"T":910,"r":0.76,"m":0.19,"top":0},{"id":"E","i":2,"T":953,"r":0.73,"m":0.19,"top":0},{"id":"E","i":3,"T":963,"r":0.05,"m":0.19,"top":0},{"id":"E","i":4,"T":971,"r":-0.07,"m":0.19,"top":0},{"id":"E","i":5,"T":987,"r":0.19,"m":0.19,"top":0},{"id":"E","i":6,"T":1002,"r":0.91,"m":0.19,"top":1},{"id":"E","i":7,"T":1014,"r":1.04,"m":0.19,"top":1},{"id":"E","i":8,"T":1051,"r":0.77,"m":0.19,"top":1},{"id":"E","i":9,"T":1077,"r":0.54,"m":0.19,"top":1},
{"id":"F","i":0,"T":877,"r":1.16,"m":0.158,"top":0},{"id":"F","i":1,"T":909,"r":1.34,"m":0.158,"top":0},{"id":"F","i":2,"T":930,"r":1.38,"m":0.158,"top":1},{"id":"F","i":3,"T":942,"r":1.39,"m":0.158,"top":1},{"id":"F","i":4,"T":957,"r":2.2,"m":0.158,"top":1},
{"id":"P","i":0,"T":877,"r":1.87,"m":0.125,"top":0},{"id":"P","i":1,"T":923,"r":1.75,"m":0.125,"top":1},{"id":"P","i":2,"T":944,"r":1.97,"m":0.125,"top":1},{"id":"P","i":3,"T":950,"r":2.2,"m":0.125,"top":1},
{"id":"M","i":0,"T":904,"r":2.2,"m":0.093,"top":1},{"id":"M","i":1,"T":920,"r":2.06,"m":0.093,"top":1},{"id":"M","i":2,"T":936,"r":2.2,"m":0.093,"top":1},
{"id":"G","i":0,"T":990,"r":2.2,"m":0.158,"top":1},{"id":"G","i":1,"T":1003,"r":1.56,"m":0.158,"top":1},{"id":"G","i":2,"T":1044,"r":1.14,"m":0.158,"top":1},{"id":"G","i":3,"T":1077,"r":0.96,"m":0.158,"top":1},
{"id":"H","i":0,"T":1000,"r":2.2,"m":0.125,"top":1},{"id":"H","i":1,"T":1011,"r":1.8,"m":0.125,"top":1},{"id":"H","i":2,"T":1046,"r":1.6,"m":0.125,"top":1},{"id":"H","i":3,"T":1077,"r":1.23,"m":0.125,"top":1},
{"id":"I","i":0,"T":1011,"r":2.2,"m":0.093,"top":1},{"id":"I","i":1,"T":1040,"r":1.9,"m":0.093,"top":1},{"id":"I","i":2,"T":1077,"r":1.51,"m":0.093,"top":1},
{"id":"N","i":0,"T":1030,"r":2.2,"m":0.061,"top":1},{"id":"N","i":1,"T":1077,"r":1.72,"m":0.061,"top":1},
{"id":"J","i":0,"T":958,"r":-4.7,"m":0.222,"top":0},{"id":"J","i":1,"T":962,"r":-3.25,"m":0.222,"top":0},{"id":"J","i":2,"T":983,"r":-2.37,"m":0.222,"top":0},{"id":"J","i":3,"T":1000,"r":0.14,"m":0.222,"top":0},{"id":"J","i":4,"T":1012,"r":0.48,"m":0.222,"top":1},{"id":"J","i":5,"T":1040,"r":0.32,"m":0.222,"top":1},{"id":"J","i":6,"T":1077,"r":0.13,"m":0.222,"top":1},
{"id":"K","i":0,"T":1077,"r":-4.5,"m":0.254,"top":1},{"id":"K","i":1,"T":1040,"r":-4,"m":0.254,"top":1},{"id":"K","i":2,"T":1003,"r":-3.52,"m":0.254,"top":1},{"id":"K","i":3,"T":998,"r":-2.39,"m":0.254,"top":0},{"id":"K","i":4,"T":996,"r":-1.15,"m":0.254,"top":0},{"id":"K","i":5,"T":1010,"r":-0.21,"m":0.254,"top":0},
{"id":"K2","i":0,"T":1010,"r":-0.21,"m":0.254,"top":1},{"id":"K2","i":1,"T":1040,"r":-0.12,"m":0.254,"top":1},{"id":"K2","i":2,"T":1077,"r":-0.3,"m":0.254,"top":1},
{"id":"L","i":0,"T":1077,"r":-4,"m":0.286,"top":1},{"id":"L","i":1,"T":1053,"r":-3.4,"m":0.286,"top":1},{"id":"L","i":2,"T":1014,"r":-2.77,"m":0.286,"top":1},
{"id":"L3","i":0,"T":1014,"r":-2.77,"m":0.286,"top":0},{"id":"L3","i":1,"T":1012,"r":-1.11,"m":0.286,"top":0},{"id":"L3","i":2,"T":1035,"r":-1,"m":0.286,"top":0},
{"id":"L2","i":0,"T":1035,"r":-1,"m":0.286,"top":1},{"id":"L2","i":1,"T":1055,"r":-0.95,"m":0.286,"top":1},{"id":"L2","i":2,"T":1077,"r":-0.85,"m":0.286,"top":1}
],
"lab":[
{"g":"z","T":872,"r":-4.7,"z":-0.05,"lab":"-0.05"},{"g":"z","T":872,"r":-4.7,"z":0,"lab":"0.00"},{"g":"z","T":872,"r":-4.7,"z":0.05,"lab":"0.05"},{"g":"z","T":872,"r":-4.7,"z":0.1,"lab":"0.10"},{"g":"z","T":872,"r":-4.7,"z":0.15,"lab":"0.15"},{"g":"z","T":872,"r":-4.7,"z":0.2,"lab":"0.20"},{"g":"z","T":872,"r":-4.7,"z":0.25,"lab":"0.25"},{"g":"z","T":872,"r":-4.7,"z":0.3,"lab":"0.30"},
{"g":"t","T":880,"r":-5.22,"z":-0.05,"lab":"880"},{"g":"t","T":900,"r":-5.22,"z":-0.05,"lab":"900"},{"g":"t","T":920,"r":-5.22,"z":-0.05,"lab":"920"},{"g":"t","T":940,"r":-5.22,"z":-0.05,"lab":"940"},{"g":"t","T":960,"r":-5.22,"z":-0.05,"lab":"960"},{"g":"t","T":980,"r":-5.22,"z":-0.05,"lab":"980"},{"g":"t","T":1000,"r":-5.22,"z":-0.05,"lab":"1000"},{"g":"t","T":1020,"r":-5.22,"z":-0.05,"lab":"1020"},{"g":"t","T":1040,"r":-5.22,"z":-0.05,"lab":"1040"},{"g":"t","T":1060,"r":-5.22,"z":-0.05,"lab":"1060"},
{"g":"r","T":1086,"r":-4,"z":-0.05,"lab":"-4"},{"g":"r","T":1086,"r":-3,"z":-0.05,"lab":"-3"},{"g":"r","T":1086,"r":-2,"z":-0.05,"lab":"-2"},{"g":"r","T":1086,"r":-1,"z":-0.05,"lab":"-1"},{"g":"r","T":1086,"r":0,"z":-0.05,"lab":"0"},{"g":"r","T":1086,"r":1,"z":-0.05,"lab":"1"},{"g":"r","T":1086,"r":2,"z":-0.05,"lab":"2"},
{"g":"a","T":982,"r":-6.07,"z":-0.05,"lab":"Deformation temperature (K)"},{"g":"b","T":1103,"r":-1.42,"z":-0.05,"lab":"Strain rate in ln scale"},{"g":"c","T":877,"r":-6.08,"z":0.1375,"lab":"Strain rate sensitivity"}
],
"cb":[{"v":0.318,"lab":"0.318"},{"v":0.286,"lab":"0.286"},{"v":0.254,"lab":"0.254"},{"v":0.222,"lab":"0.222"},{"v":0.19,"lab":"0.190"},{"v":0.158,"lab":"0.158"},{"v":0.125,"lab":"0.125"},{"v":0.093,"lab":"0.093"},{"v":0.061,"lab":"0.061"},{"v":0.029,"lab":"0.029"},{"v":-0.003,"lab":"-0.003"}]
},
"layer":[
{"data":{"name":"cb"},"transform":[{"calculate":"874-(datum.v+0.003)/0.321*790","as":"ty"}],
"mark":{"type":"point","filled":true,"size":1,"opacity":1},
"encoding":{"x":{"datum":1525,"type":"quantitative","scale":{"domain":[0,1714],"nice":false},"axis":null},"y":{"field":"ty","type":"quantitative","scale":{"domain":[0,1416],"reverse":true,"nice":false},"axis":null},
"fill":{"field":"v","type":"quantitative","scale":{"domain":[-0.003,0.014,0.03,0.044,0.066,0.082,0.09,0.097,0.1245,0.1255,0.143,0.161,0.172,0.187,0.2025,0.2035,0.27,0.286,0.306,0.318],"range":["#6a006a","#9400c8","#6000ff","#0000ff","#00a0ff","#00ffff","#00ffa8","#00f000","#00f000","#70f000","#c0ff00","#ffff00","#ffc800","#ff8000","#ff3800","#ff0000","#ff0000","#c80000","#8c0000","#500000"],"clamp":true},
"legend":{"type":"gradient","orient":"none","legendX":1487,"legendY":84,"direction":"vertical","title":null,"gradientLength":790,"gradientThickness":78,"gradientStrokeColor":"#222222","gradientStrokeWidth":3,"values":[],"labelOpacity":0}}}},
{"data":{"name":"seg"},"transform":[{"filter":"datum.k=='w'"},{"calculate":"(datum.T-877)/200","as":"U"},{"calculate":"(datum.r+4.7)/6.9","as":"V"},{"calculate":"(datum.z+0.05)/0.375","as":"W"},{"calculate":"1-0.13645*datum.U+0.16103*datum.V-0.0535*datum.W","as":"D"},{"calculate":"(198+544.65*datum.U+677.42*datum.V-40*datum.W)/datum.D","as":"sx"},{"calculate":"(971+76.49*datum.U-87.46*datum.V-853.6*datum.W)/datum.D","as":"sy"},{"calculate":"(datum.T2-877)/200","as":"U2"},{"calculate":"(datum.r2+4.7)/6.9","as":"V2"},{"calculate":"(datum.z2+0.05)/0.375","as":"W2"},{"calculate":"1-0.13645*datum.U2+0.16103*datum.V2-0.0535*datum.W2","as":"D2"},{"calculate":"(198+544.65*datum.U2+677.42*datum.V2-40*datum.W2)/datum.D2","as":"ex"},{"calculate":"(971+76.49*datum.U2-87.46*datum.V2-853.6*datum.W2)/datum.D2","as":"ey"}],
"mark":{"type":"rule","stroke":"#f0f0f0","strokeWidth":2},
"encoding":{"x":{"field":"sx","type":"quantitative","axis":null},"y":{"field":"sy","type":"quantitative","axis":null},"x2":{"field":"ex"},"y2":{"field":"ey"}}},
{"data":{"name":"seg"},"transform":[{"filter":"datum.k=='f'"},{"calculate":"(datum.T-877)/200","as":"U"},{"calculate":"(datum.r+4.7)/6.9","as":"V"},{"calculate":"(datum.z+0.05)/0.375","as":"W"},{"calculate":"1-0.13645*datum.U+0.16103*datum.V-0.0535*datum.W","as":"D"},{"calculate":"(198+544.65*datum.U+677.42*datum.V-40*datum.W)/datum.D","as":"sx"},{"calculate":"(971+76.49*datum.U-87.46*datum.V-853.6*datum.W)/datum.D","as":"sy"},{"calculate":"(datum.T2-877)/200","as":"U2"},{"calculate":"(datum.r2+4.7)/6.9","as":"V2"},{"calculate":"(datum.z2+0.05)/0.375","as":"W2"},{"calculate":"1-0.13645*datum.U2+0.16103*datum.V2-0.0535*datum.W2","as":"D2"},{"calculate":"(198+544.65*datum.U2+677.42*datum.V2-40*datum.W2)/datum.D2","as":"ex"},{"calculate":"(971+76.49*datum.U2-87.46*datum.V2-853.6*datum.W2)/datum.D2","as":"ey"}],
"mark":{"type":"rule","stroke":"#858585","strokeWidth":1.6},
"encoding":{"x":{"field":"sx","type":"quantitative","axis":null},"y":{"field":"sy","type":"quantitative","axis":null},"x2":{"field":"ex"},"y2":{"field":"ey"}}},
{"data":{"name":"grid"},"projection":{"type":"identity","scale":1,"translate":[0,0]},
"transform":[{"calculate":"(datum.T-877)/200","as":"U"},{"calculate":"(datum.r+4.7)/6.9","as":"V"},{"calculate":"1-0.13645*datum.U+0.16103*datum.V","as":"D"},{"calculate":"(198+544.65*datum.U+677.42*datum.V)/datum.D","as":"sx"},{"calculate":"(971+76.49*datum.U-87.46*datum.V)/datum.D","as":"sy"},
{"window":[{"op":"lead","field":"sx","as":"sx1"},{"op":"lead","field":"sy","as":"sy1"},{"op":"lead","field":"m","as":"m1"}],"sort":[{"field":"r","order":"ascending"}],"groupby":["T"]},
{"window":[{"op":"lead","field":"sx","as":"sx2"},{"op":"lead","field":"sy","as":"sy2"},{"op":"lead","field":"m","as":"m2"},{"op":"lead","field":"sx1","as":"sx3"},{"op":"lead","field":"sy1","as":"sy3"},{"op":"lead","field":"m1","as":"m3"}],"sort":[{"field":"T","order":"ascending"}],"groupby":["r"]},
{"filter":"isValid(datum.sx3)"},{"calculate":"(datum.m+datum.m1+datum.m2+datum.m3)/4","as":"mc"},{"calculate":"{type:'Polygon',coordinates:[[[datum.sx,datum.sy],[datum.sx1,datum.sy1],[datum.sx3,datum.sy3],[datum.sx2,datum.sy2],[datum.sx,datum.sy]]]}","as":"geo"},
{"calculate":"min(datum.sx,datum.sx1,datum.sx2,datum.sx3)","as":"x0"},{"calculate":"max(datum.sx,datum.sx1,datum.sx2,datum.sx3)-datum.x0+0.001","as":"bw"},{"calculate":"min(datum.sy,datum.sy1,datum.sy2,datum.sy3)","as":"y0"},{"calculate":"max(datum.sy,datum.sy1,datum.sy2,datum.sy3)-datum.y0+0.001","as":"bh"},
{"calculate":"(datum.sx3-datum.sx)/datum.bw","as":"a1"},{"calculate":"(datum.sy3-datum.sy)/datum.bh","as":"b1"},{"calculate":"(datum.sx2-datum.sx1)/datum.bw","as":"a2"},{"calculate":"(datum.sy2-datum.sy1)/datum.bh","as":"b2"},{"calculate":"datum.a1*datum.b2-datum.a2*datum.b1","as":"det"},{"calculate":"datum.m3-datum.m","as":"e1"},{"calculate":"datum.m2-datum.m1","as":"e2"},
{"calculate":"abs(datum.det)<0.05?0:(datum.e1*datum.b2-datum.e2*datum.b1)/datum.det","as":"A"},{"calculate":"abs(datum.det)<0.05?0:(datum.a1*datum.e2-datum.a2*datum.e1)/datum.det","as":"B"},{"calculate":"datum.A*datum.A+datum.B*datum.B","as":"n"},{"calculate":"datum.n>1e-9?(max(datum.m,datum.m1,datum.m2,datum.m3)-min(datum.m,datum.m1,datum.m2,datum.m3))/2:0","as":"hr"},{"calculate":"datum.n>1e-9?datum.hr/datum.n:0","as":"t"},{"calculate":"((datum.sx+datum.sx1+datum.sx2+datum.sx3)/4-datum.x0)/datum.bw","as":"cx"},{"calculate":"((datum.sy+datum.sy1+datum.sy2+datum.sy3)/4-datum.y0)/datum.bh","as":"cy"},
{"calculate":"{gradient:'linear',x1:datum.cx-datum.A*datum.t,y1:datum.cy-datum.B*datum.t,x2:datum.cx+datum.A*datum.t,y2:datum.cy+datum.B*datum.t,stops:[{offset:0,color:scale('fill',datum.mc-datum.hr)},{offset:0.2,color:scale('fill',datum.mc-0.6*datum.hr)},{offset:0.4,color:scale('fill',datum.mc-0.2*datum.hr)},{offset:0.6,color:scale('fill',datum.mc+0.2*datum.hr)},{offset:0.8,color:scale('fill',datum.mc+0.6*datum.hr)},{offset:1,color:scale('fill',datum.mc+datum.hr)}]}","as":"grad"}],
"mark":{"type":"geoshape","strokeWidth":0.8,"fill":{"expr":"datum.grad"},"stroke":{"expr":"datum.grad"}},
"encoding":{"shape":{"field":"geo","type":"geojson"}}},
{"data":{"name":"seg"},"transform":[{"filter":"datum.k=='g'"},{"calculate":"(datum.T-877)/200","as":"U"},{"calculate":"(datum.r+4.7)/6.9","as":"V"},{"calculate":"(datum.z+0.05)/0.375","as":"W"},{"calculate":"1-0.13645*datum.U+0.16103*datum.V-0.0535*datum.W","as":"D"},{"calculate":"(198+544.65*datum.U+677.42*datum.V-40*datum.W)/datum.D","as":"sx"},{"calculate":"(971+76.49*datum.U-87.46*datum.V-853.6*datum.W)/datum.D","as":"sy"},{"calculate":"(datum.T2-877)/200","as":"U2"},{"calculate":"(datum.r2+4.7)/6.9","as":"V2"},{"calculate":"(datum.z2+0.05)/0.375","as":"W2"},{"calculate":"1-0.13645*datum.U2+0.16103*datum.V2-0.0535*datum.W2","as":"D2"},{"calculate":"(198+544.65*datum.U2+677.42*datum.V2-40*datum.W2)/datum.D2","as":"ex"},{"calculate":"(971+76.49*datum.U2-87.46*datum.V2-853.6*datum.W2)/datum.D2","as":"ey"}],
"mark":{"type":"rule","stroke":"#ffffff","strokeWidth":1.2,"opacity":0.22},
"encoding":{"x":{"field":"sx","type":"quantitative","axis":null},"y":{"field":"sy","type":"quantitative","axis":null},"x2":{"field":"ex"},"y2":{"field":"ey"}}},
{"data":{"name":"ctr"},"transform":[{"calculate":"(datum.T-877)/200","as":"U"},{"calculate":"(datum.r+4.7)/6.9","as":"V"},{"calculate":"1-0.13645*datum.U+0.16103*datum.V","as":"D"},{"calculate":"(198+544.65*datum.U+677.42*datum.V)/datum.D","as":"sx"},{"calculate":"(971+76.49*datum.U-87.46*datum.V)/datum.D","as":"sy"}],
"mark":{"type":"line","interpolate":"cardinal","stroke":"#555555","strokeWidth":1.5,"opacity":0.75},
"encoding":{"x":{"field":"sx","type":"quantitative","axis":null},"y":{"field":"sy","type":"quantitative","axis":null},"detail":{"field":"id"},"order":{"field":"i"}}},
{"data":{"name":"grid"},"projection":{"type":"identity","scale":1,"translate":[0,0]},
"transform":[{"calculate":"(datum.T-877)/200","as":"U"},{"calculate":"(datum.r+4.7)/6.9","as":"V"},{"calculate":"(datum.m+0.05)/0.375","as":"W"},{"calculate":"1-0.13645*datum.U+0.16103*datum.V-0.0535*datum.W","as":"D"},{"calculate":"(198+544.65*datum.U+677.42*datum.V-40*datum.W)/datum.D","as":"sx"},{"calculate":"(971+76.49*datum.U-87.46*datum.V-853.6*datum.W)/datum.D","as":"sy"},
{"window":[{"op":"lead","field":"sx","as":"sx1"},{"op":"lead","field":"sy","as":"sy1"},{"op":"lead","field":"m","as":"m1"}],"sort":[{"field":"r","order":"ascending"}],"groupby":["T"]},
{"window":[{"op":"lead","field":"sx","as":"sx2"},{"op":"lead","field":"sy","as":"sy2"},{"op":"lead","field":"m","as":"m2"},{"op":"lead","field":"sx1","as":"sx3"},{"op":"lead","field":"sy1","as":"sy3"},{"op":"lead","field":"m1","as":"m3"}],"sort":[{"field":"T","order":"ascending"}],"groupby":["r"]},
{"filter":"isValid(datum.sx3)"},{"calculate":"(datum.m+datum.m1+datum.m2+datum.m3)/4","as":"mc"},{"calculate":"datum.T*10-datum.r","as":"depth"},{"calculate":"{type:'Polygon',coordinates:[[[datum.sx,datum.sy],[datum.sx1,datum.sy1],[datum.sx3,datum.sy3],[datum.sx2,datum.sy2],[datum.sx,datum.sy]]]}","as":"geo"},
{"calculate":"min(datum.sx,datum.sx1,datum.sx2,datum.sx3)","as":"x0"},{"calculate":"max(datum.sx,datum.sx1,datum.sx2,datum.sx3)-datum.x0+0.001","as":"bw"},{"calculate":"min(datum.sy,datum.sy1,datum.sy2,datum.sy3)","as":"y0"},{"calculate":"max(datum.sy,datum.sy1,datum.sy2,datum.sy3)-datum.y0+0.001","as":"bh"},
{"calculate":"(datum.sx3-datum.sx)/datum.bw","as":"a1"},{"calculate":"(datum.sy3-datum.sy)/datum.bh","as":"b1"},{"calculate":"(datum.sx2-datum.sx1)/datum.bw","as":"a2"},{"calculate":"(datum.sy2-datum.sy1)/datum.bh","as":"b2"},{"calculate":"datum.a1*datum.b2-datum.a2*datum.b1","as":"det"},{"calculate":"datum.m3-datum.m","as":"e1"},{"calculate":"datum.m2-datum.m1","as":"e2"},
{"calculate":"abs(datum.det)<0.05?0:(datum.e1*datum.b2-datum.e2*datum.b1)/datum.det","as":"A"},{"calculate":"abs(datum.det)<0.05?0:(datum.a1*datum.e2-datum.a2*datum.e1)/datum.det","as":"B"},{"calculate":"datum.A*datum.A+datum.B*datum.B","as":"n"},{"calculate":"datum.n>1e-9?(max(datum.m,datum.m1,datum.m2,datum.m3)-min(datum.m,datum.m1,datum.m2,datum.m3))/2:0","as":"hr"},{"calculate":"datum.n>1e-9?datum.hr/datum.n:0","as":"t"},{"calculate":"((datum.sx+datum.sx1+datum.sx2+datum.sx3)/4-datum.x0)/datum.bw","as":"cx"},{"calculate":"((datum.sy+datum.sy1+datum.sy2+datum.sy3)/4-datum.y0)/datum.bh","as":"cy"},
{"calculate":"{gradient:'linear',x1:datum.cx-datum.A*datum.t,y1:datum.cy-datum.B*datum.t,x2:datum.cx+datum.A*datum.t,y2:datum.cy+datum.B*datum.t,stops:[{offset:0,color:scale('fill',datum.mc-datum.hr)},{offset:0.2,color:scale('fill',datum.mc-0.6*datum.hr)},{offset:0.4,color:scale('fill',datum.mc-0.2*datum.hr)},{offset:0.6,color:scale('fill',datum.mc+0.2*datum.hr)},{offset:0.8,color:scale('fill',datum.mc+0.6*datum.hr)},{offset:1,color:scale('fill',datum.mc+datum.hr)}]}","as":"grad"}],
"mark":{"type":"geoshape","strokeWidth":0.8,"fill":{"expr":"datum.grad"},"stroke":{"expr":"datum.grad"}},
"encoding":{"shape":{"field":"geo","type":"geojson"},"order":{"field":"depth","type":"quantitative"}}},
{"data":{"name":"ctr"},"transform":[{"filter":"datum.top==1"},{"calculate":"(datum.T-877)/200","as":"U"},{"calculate":"(datum.r+4.7)/6.9","as":"V"},{"calculate":"(datum.m+0.05)/0.375","as":"W"},{"calculate":"1-0.13645*datum.U+0.16103*datum.V-0.0535*datum.W","as":"D"},{"calculate":"(198+544.65*datum.U+677.42*datum.V-40*datum.W)/datum.D","as":"sx"},{"calculate":"(971+76.49*datum.U-87.46*datum.V-853.6*datum.W)/datum.D","as":"sy"},{"calculate":"datum.id","as":"cid"}],
"mark":{"type":"line","interpolate":"cardinal","stroke":"#555555","strokeWidth":1.5,"opacity":0.7},
"encoding":{"x":{"field":"sx","type":"quantitative","axis":null},"y":{"field":"sy","type":"quantitative","axis":null},"detail":{"field":"cid"},"order":{"field":"i"}}},
{"data":{"name":"seg"},"transform":[{"filter":"datum.k=='a'"},{"calculate":"(datum.T-877)/200","as":"U"},{"calculate":"(datum.r+4.7)/6.9","as":"V"},{"calculate":"(datum.z+0.05)/0.375","as":"W"},{"calculate":"1-0.13645*datum.U+0.16103*datum.V-0.0535*datum.W","as":"D"},{"calculate":"(198+544.65*datum.U+677.42*datum.V-40*datum.W)/datum.D","as":"sx"},{"calculate":"(971+76.49*datum.U-87.46*datum.V-853.6*datum.W)/datum.D","as":"sy"},{"calculate":"(datum.T2-877)/200","as":"U2"},{"calculate":"(datum.r2+4.7)/6.9","as":"V2"},{"calculate":"(datum.z2+0.05)/0.375","as":"W2"},{"calculate":"1-0.13645*datum.U2+0.16103*datum.V2-0.0535*datum.W2","as":"D2"},{"calculate":"(198+544.65*datum.U2+677.42*datum.V2-40*datum.W2)/datum.D2","as":"ex"},{"calculate":"(971+76.49*datum.U2-87.46*datum.V2-853.6*datum.W2)/datum.D2","as":"ey"}],
"mark":{"type":"rule","stroke":"#222222","strokeWidth":2.4},
"encoding":{"x":{"field":"sx","type":"quantitative","axis":null},"y":{"field":"sy","type":"quantitative","axis":null},"x2":{"field":"ex"},"y2":{"field":"ey"}}},
{"data":{"name":"lab"},"transform":[{"filter":"datum.g=='z'"},{"calculate":"(datum.T-877)/200","as":"U"},{"calculate":"(datum.r+4.7)/6.9","as":"V"},{"calculate":"(datum.z+0.05)/0.375","as":"W"},{"calculate":"1-0.13645*datum.U+0.16103*datum.V-0.0535*datum.W","as":"D"},{"calculate":"(198+544.65*datum.U+677.42*datum.V-40*datum.W)/datum.D","as":"sx"},{"calculate":"(971+76.49*datum.U-87.46*datum.V-853.6*datum.W)/datum.D","as":"sy"}],
"mark":{"type":"text","font":"Liberation Sans","fontSize":33,"color":"#3a3a3a","align":"right","baseline":"middle","angle":352,"dx":-18,"dy":9},
"encoding":{"x":{"field":"sx","type":"quantitative","axis":null},"y":{"field":"sy","type":"quantitative","axis":null},"text":{"field":"lab"}}},
{"data":{"name":"lab"},"transform":[{"filter":"datum.g=='t'"},{"calculate":"(datum.T-877)/200","as":"U"},{"calculate":"(datum.r+4.7)/6.9","as":"V"},{"calculate":"(datum.z+0.05)/0.375","as":"W"},{"calculate":"1-0.13645*datum.U+0.16103*datum.V-0.0535*datum.W","as":"D"},{"calculate":"(198+544.65*datum.U+677.42*datum.V-40*datum.W)/datum.D","as":"sx"},{"calculate":"(971+76.49*datum.U-87.46*datum.V-853.6*datum.W)/datum.D","as":"sy"}],
"mark":{"type":"text","font":"Liberation Sans","fontSize":33,"color":"#3a3a3a","align":"center","baseline":"middle","angle":338,"dy":8},
"encoding":{"x":{"field":"sx","type":"quantitative","axis":null},"y":{"field":"sy","type":"quantitative","axis":null},"text":{"field":"lab"}}},
{"data":{"name":"lab"},"transform":[{"filter":"datum.g=='r'"},{"calculate":"(datum.T-877)/200","as":"U"},{"calculate":"(datum.r+4.7)/6.9","as":"V"},{"calculate":"(datum.z+0.05)/0.375","as":"W"},{"calculate":"1-0.13645*datum.U+0.16103*datum.V-0.0535*datum.W","as":"D"},{"calculate":"(198+544.65*datum.U+677.42*datum.V-40*datum.W)/datum.D","as":"sx"},{"calculate":"(971+76.49*datum.U-87.46*datum.V-853.6*datum.W)/datum.D","as":"sy"}],
"mark":{"type":"text","font":"Liberation Sans","fontSize":29,"color":"#3a3a3a","align":"center","baseline":"middle","angle":45},
"encoding":{"x":{"field":"sx","type":"quantitative","axis":null},"y":{"field":"sy","type":"quantitative","axis":null},"text":{"field":"lab"}}},
{"data":{"name":"lab"},"transform":[{"filter":"datum.g=='a'"},{"calculate":"(datum.T-877)/200","as":"U"},{"calculate":"(datum.r+4.7)/6.9","as":"V"},{"calculate":"(datum.z+0.05)/0.375","as":"W"},{"calculate":"1-0.13645*datum.U+0.16103*datum.V-0.0535*datum.W","as":"D"},{"calculate":"(198+544.65*datum.U+677.42*datum.V-40*datum.W)/datum.D","as":"sx"},{"calculate":"(971+76.49*datum.U-87.46*datum.V-853.6*datum.W)/datum.D","as":"sy"}],
"mark":{"type":"text","font":"Liberation Sans","fontSize":45,"color":"#333333","align":"center","baseline":"middle","angle":21,"dy":-4},
"encoding":{"x":{"field":"sx","type":"quantitative","axis":null},"y":{"field":"sy","type":"quantitative","axis":null},"text":{"field":"lab"}}},
{"data":{"name":"lab"},"transform":[{"filter":"datum.g=='b'"},{"calculate":"(datum.T-877)/200","as":"U"},{"calculate":"(datum.r+4.7)/6.9","as":"V"},{"calculate":"(datum.z+0.05)/0.375","as":"W"},{"calculate":"1-0.13645*datum.U+0.16103*datum.V-0.0535*datum.W","as":"D"},{"calculate":"(198+544.65*datum.U+677.42*datum.V-40*datum.W)/datum.D","as":"sx"},{"calculate":"(971+76.49*datum.U-87.46*datum.V-853.6*datum.W)/datum.D","as":"sy"}],
"mark":{"type":"text","font":"Liberation Sans","fontSize":39,"color":"#333333","align":"center","baseline":"middle","angle":333},
"encoding":{"x":{"field":"sx","type":"quantitative","axis":null},"y":{"field":"sy","type":"quantitative","axis":null},"text":{"field":"lab"}}},
{"data":{"name":"lab"},"transform":[{"filter":"datum.g=='c'"},{"calculate":"(datum.T-877)/200","as":"U"},{"calculate":"(datum.r+4.7)/6.9","as":"V"},{"calculate":"(datum.z+0.05)/0.375","as":"W"},{"calculate":"1-0.13645*datum.U+0.16103*datum.V-0.0535*datum.W","as":"D"},{"calculate":"(198+544.65*datum.U+677.42*datum.V-40*datum.W)/datum.D","as":"sx"},{"calculate":"(971+76.49*datum.U-87.46*datum.V-853.6*datum.W)/datum.D","as":"sy"}],
"mark":{"type":"text","font":"Liberation Sans","fontSize":54,"color":"#333333","align":"center","baseline":"middle","angle":88,"dx":-4},
"encoding":{"x":{"field":"sx","type":"quantitative","axis":null},"y":{"field":"sy","type":"quantitative","axis":null},"text":{"field":"lab"}}},
{"data":{"name":"cb"},"transform":[{"calculate":"874-(datum.v+0.003)/0.321*790","as":"ty"}],
"mark":{"type":"rule","stroke":"#444444","strokeWidth":2},
"encoding":{"x":{"datum":1567,"type":"quantitative","axis":null},"x2":{"datum":1585},"y":{"field":"ty","type":"quantitative","axis":null}}},
{"data":{"name":"cb"},"transform":[{"calculate":"874-(datum.v+0.003)/0.321*790","as":"ty"}],
"mark":{"type":"text","font":"Liberation Sans","fontSize":31,"color":"#444444","align":"left","baseline":"middle"},
"encoding":{"x":{"datum":1596,"type":"quantitative","axis":null},"y":{"field":"ty","type":"quantitative","axis":null},"text":{"field":"lab"}}}
]}
